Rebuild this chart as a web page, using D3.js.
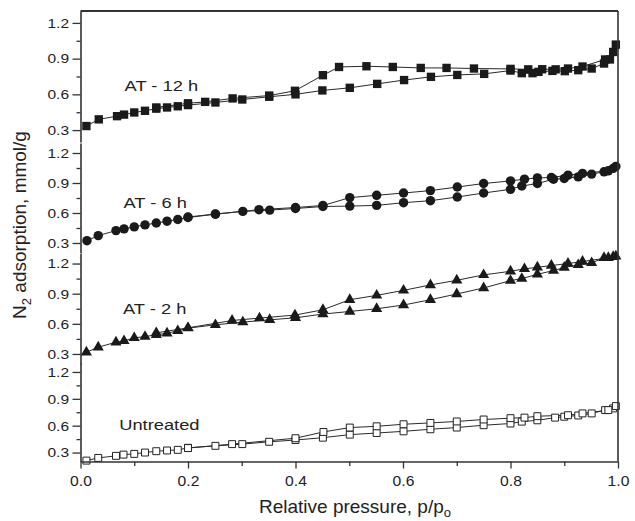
<!DOCTYPE html>
<html><head><meta charset="utf-8">
<script src="https://cdn.jsdelivr.net/npm/d3@7"></script>
<style>body{margin:0;background:#fff}svg{display:block}</style>
</head><body>
<svg id="chart" width="635" height="521"></svg>
<script>
// ---------- data ----------
const xTicks = [0.0, 0.2, 0.4, 0.6, 0.8, 1.0];
const xMinorTicks = [0.1, 0.3, 0.5, 0.7, 0.9];
const yTicks = [0.3, 0.6, 0.9, 1.2];
const yMinorTicks = [0.45, 0.75, 1.05];
const sampleNames = ["AT - 12 h", "AT - 6 h", "AT - 2 h", "Untreated"];

// AT - 12 h (filled squares)
const at12AdsP = [0.011,0.034,0.068,0.081,0.100,0.120,0.141,0.161,0.181,0.200,0.251,0.301,0.351,0.400,0.450,0.501,0.552,0.602,0.652,0.701,0.751,0.800,0.821,0.841,0.852,0.878,0.901,0.926,0.951,0.974,0.991,0.996];
const at12AdsV = [0.334,0.390,0.417,0.430,0.448,0.462,0.480,0.490,0.500,0.510,0.532,0.557,0.580,0.600,0.633,0.655,0.688,0.720,0.747,0.763,0.772,0.800,0.778,0.778,0.789,0.797,0.795,0.803,0.817,0.859,0.956,1.018];
const at12DesP = [0.985,0.976,0.934,0.907,0.884,0.859,0.833,0.800,0.732,0.681,0.633,0.581,0.532,0.481,0.451,0.399,0.351,0.283,0.232,0.200,0.141];
const at12DesV = [0.893,0.893,0.834,0.817,0.810,0.811,0.810,0.814,0.817,0.822,0.822,0.830,0.836,0.830,0.761,0.630,0.590,0.566,0.537,0.525,0.490];

// AT - 6 h (filled circles)
const at6AdsP = [0.012,0.033,0.066,0.081,0.100,0.120,0.141,0.161,0.181,0.200,0.251,0.302,0.352,0.400,0.451,0.501,0.551,0.601,0.651,0.701,0.750,0.800,0.821,0.850,0.880,0.900,0.926,0.951,0.974,0.991,0.996];
const at6AdsV = [0.323,0.374,0.424,0.441,0.461,0.481,0.500,0.518,0.535,0.555,0.588,0.616,0.629,0.645,0.665,0.669,0.676,0.703,0.723,0.760,0.800,0.837,0.870,0.895,0.938,0.945,0.961,0.989,1.012,1.046,1.066];
const at6DesP = [0.982,0.934,0.907,0.876,0.850,0.826,0.800,0.750,0.701,0.651,0.601,0.551,0.501,0.451,0.400,0.332,0.251,0.200];
const at6DesV = [1.022,0.996,0.978,0.955,0.951,0.938,0.921,0.895,0.860,0.824,0.800,0.777,0.754,0.675,0.655,0.633,0.590,0.560];

// AT - 2 h (filled triangles)
const at2AdsP = [0.011,0.033,0.066,0.081,0.100,0.120,0.141,0.161,0.181,0.200,0.251,0.302,0.352,0.400,0.451,0.501,0.551,0.601,0.651,0.700,0.750,0.800,0.821,0.850,0.880,0.900,0.926,0.951,0.974,0.991,0.996];
const at2AdsV = [0.317,0.367,0.417,0.430,0.460,0.473,0.490,0.507,0.530,0.557,0.590,0.617,0.640,0.660,0.697,0.723,0.750,0.787,0.840,0.897,0.957,1.030,1.050,1.093,1.130,1.160,1.187,1.207,1.257,1.267,1.273];
const at2DesP = [0.982,0.934,0.907,0.876,0.850,0.826,0.800,0.750,0.700,0.651,0.601,0.551,0.501,0.451,0.399,0.333,0.282,0.200,0.141];
const at2DesV = [1.257,1.220,1.200,1.180,1.163,1.147,1.123,1.087,1.033,0.987,0.933,0.883,0.840,0.740,0.687,0.657,0.633,0.560,0.510];

// Untreated (open squares)
const untAdsP = [0.011,0.033,0.066,0.080,0.100,0.120,0.141,0.161,0.181,0.200,0.251,0.301,0.351,0.400,0.451,0.501,0.551,0.601,0.651,0.700,0.750,0.800,0.821,0.850,0.883,0.900,0.926,0.951,0.976,0.991,0.996];
const untAdsV = [0.210,0.240,0.263,0.277,0.285,0.300,0.315,0.323,0.330,0.353,0.375,0.394,0.420,0.440,0.466,0.500,0.518,0.537,0.560,0.579,0.605,0.624,0.645,0.660,0.690,0.700,0.714,0.737,0.774,0.793,0.819];
const untDesP = [0.982,0.934,0.907,0.850,0.826,0.800,0.750,0.700,0.651,0.601,0.551,0.501,0.452,0.400,0.282,0.200];
const untDesV = [0.774,0.737,0.717,0.706,0.690,0.684,0.669,0.647,0.631,0.616,0.593,0.579,0.530,0.460,0.394,0.350];

const labelValues = [0.63, 0.65, 0.70, 0.553];   // y value (panel units) of each annotation baseline
const labelPressure = [0.082, 0.080, 0.079, 0.072];

// ---------- layout ----------
const svg = d3.select("#chart");
const plotLeft = 80.5, plotRight = 618, plotTop = 11, plotBottom = 461.5;
const panels = [ {top: 11, bottom: 142}, {top: 143, bottom: 253}, {top: 253.5, bottom: 364}, {top: 363, bottom: 461.5} ];
const yDomain = [0.2, 1.3];
const ink = "#1a1a1a";

const x = d3.scaleLinear().domain([0, 1]).range([plotLeft, plotRight]);

const series = [
  {ads:[at12AdsP, at12AdsV], des:[at12DesP, at12DesV], symbol:d3.symbolSquare, size:70, fill:ink},
  {ads:[at6AdsP, at6AdsV], des:[at6DesP, at6DesV], symbol:d3.symbolCircle, size:70, fill:ink},
  {ads:[at2AdsP, at2AdsV], des:[at2DesP, at2DesV], symbol:d3.symbolTriangle, size:54, fill:ink},
  {ads:[untAdsP, untAdsV], des:[untDesP, untDesV], symbol:d3.symbolSquare, size:48, fill:"#fff"}
];

const fmt = d3.format(".1f");
const tickScale = 1.15;

panels.forEach((pn, i) => {
  const y = d3.scaleLinear().domain(yDomain).range([pn.bottom, pn.top]);
  const g = svg.append("g");

  // left axis with major ticks
  const ax = g.append("g").attr("transform", `translate(${plotLeft},0)`)
    .call(d3.axisLeft(y).tickValues(yTicks).tickSize(8).tickSizeOuter(0).tickPadding(3).tickFormat(fmt));
  ax.select(".domain").attr("stroke", "#333").attr("stroke-width", 1.6);
  ax.selectAll(".tick line").attr("stroke", "#333").attr("stroke-width", 1.3);
  ax.selectAll(".tick text")
    .attr("font-family", "Liberation Sans, Arial, sans-serif").attr("font-size", 13.5).attr("fill", "#222")
    .attr("x", -11.5 / tickScale).attr("transform", `scale(${tickScale},1)`);
  // minor ticks
  g.append("g").attr("transform", `translate(${plotLeft},0)`)
    .call(d3.axisLeft(y).tickValues(yMinorTicks).tickSize(4).tickSizeOuter(0).tickFormat(""))
    .call(s => s.select(".domain").remove())
    .call(s => s.selectAll(".tick line").attr("stroke", "#333").attr("stroke-width", 1.3));

  // data
  const s = series[i];
  const pts = s.ads[0].map((p, k) => [p, s.ads[1][k]])
    .concat(s.des[0].map((p, k) => [p, s.des[1][k]]));
  const line = d3.line().x(d => x(d[0])).y(d => y(d[1]));
  g.append("path").attr("d", line(pts)).attr("fill", "none")
    .attr("stroke", "#2a2a2a").attr("stroke-width", 1);
  g.selectAll("path.m").data(pts).join("path").attr("class", "m")
    .attr("transform", d => `translate(${x(d[0])},${y(d[1])})`)
    .attr("d", d3.symbol().type(s.symbol).size(s.size))
    .attr("fill", s.fill)
    .attr("stroke", s.fill === "#fff" ? "#222" : "none")
    .attr("stroke-width", 1);

  // annotation
  svg.append("text")
    .attr("transform", `translate(${x(labelPressure[i])},${y(labelValues[i])}) scale(1.22,1)`)
    .attr("font-family", "Liberation Sans, Arial, sans-serif").attr("font-size", 15).attr("fill", "#222")
    .text(sampleNames[i]);
});

// frame: top and right
svg.append("line").attr("x1", plotLeft).attr("x2", plotRight).attr("y1", plotTop).attr("y2", plotTop)
  .attr("stroke", "#333").attr("stroke-width", 1.8);
svg.append("line").attr("x1", plotRight).attr("x2", plotRight).attr("y1", plotTop).attr("y2", plotBottom)
  .attr("stroke", "#333").attr("stroke-width", 1.6);

// bottom axis
const xa = svg.append("g").attr("transform", `translate(0,${plotBottom})`)
  .call(d3.axisBottom(x).tickValues(xTicks).tickSize(7).tickSizeOuter(0).tickPadding(8).tickFormat(fmt));
xa.select(".domain").attr("stroke", "#333").attr("stroke-width", 1.6);
xa.selectAll(".tick line").attr("stroke", "#333").attr("stroke-width", 1.3);
xa.selectAll(".tick text")
  .attr("font-family", "Liberation Sans, Arial, sans-serif").attr("font-size", 14).attr("fill", "#222")
  .attr("transform", `scale(1.12,1)`);
svg.append("g").attr("transform", `translate(0,${plotBottom})`)
  .call(d3.axisBottom(x).tickValues(xMinorTicks).tickSize(4.5).tickSizeOuter(0).tickFormat(""))
  .call(s => s.select(".domain").remove())
  .call(s => s.selectAll(".tick line").attr("stroke", "#333").attr("stroke-width", 1.3));

// axis titles
const xt = svg.append("text").attr("x", 355).attr("y", 513).attr("text-anchor", "middle")
  .attr("font-family", "Liberation Sans, Arial, sans-serif").attr("font-size", 19).attr("fill", "#222");
xt.append("tspan").text("Relative pressure, p/p");
xt.append("tspan").attr("dy", 4).attr("font-size", 13).text("o");

const yt = svg.append("text").attr("transform", "translate(25.5,225) rotate(-90)").attr("text-anchor", "middle")
  .attr("font-family", "Liberation Sans, Arial, sans-serif").attr("font-size", 19).attr("fill", "#222");
yt.append("tspan").text("N");
yt.append("tspan").attr("dy", 5).attr("font-size", 13).text("2");
yt.append("tspan").attr("dy", -5).text(" adsorption, mmol/g");
</script>
</body></html>
